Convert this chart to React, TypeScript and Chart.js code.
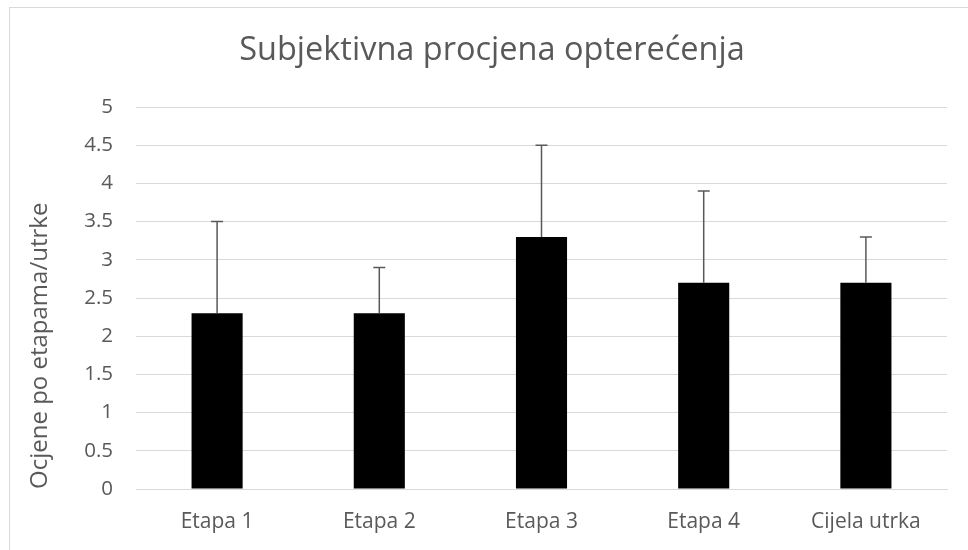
import React, { useEffect, useRef } from "react";
import { Chart, registerables } from "chart.js";

Chart.register(...registerables);

const titleText = "Subjektivna procjena opterećenja";
const yAxisTitle = "Ocjene po etapama/utrke";
const categories = ["Etapa 1", "Etapa 2", "Etapa 3", "Etapa 4", "Cijela utrka"];
const means = [2.3, 2.3, 3.3, 2.7, 2.7];
const errorsUp = [1.2, 0.6, 1.2, 1.2, 0.6];
const yTickLabels = ["0", "0.5", "1", "1.5", "2", "2.5", "3", "3.5", "4", "4.5", "5"];

const TEXT = "#595959";
const GRID = "#d9d9d9";
const FONT = "'Open Sans', sans-serif";

const errorBarPlugin = {
  id: "errorBars",
  afterDatasetsDraw(chart: any) {
    const meta = chart.getDatasetMeta(0);
    const y = chart.scales.y;
    const ctx = chart.ctx;
    ctx.save();
    ctx.strokeStyle = "#595959";
    ctx.lineWidth = 1.5;
    meta.data.forEach((bar: any, i: number) => {
      const x = bar.x;
      const yTop = y.getPixelForValue(means[i] + errorsUp[i]);
      const yBase = y.getPixelForValue(means[i]);
      ctx.beginPath();
      ctx.moveTo(x, yBase);
      ctx.lineTo(x, yTop);
      ctx.moveTo(x - 6, yTop);
      ctx.lineTo(x + 6, yTop);
      ctx.stroke();
    });
    ctx.restore();
  },
};

const framePlugin = {
  id: "frame",
  beforeDraw(chart: any) {
    const ctx = chart.ctx;
    ctx.save();
    ctx.fillStyle = "#ffffff";
    ctx.fillRect(0, 0, chart.width, chart.height);
    ctx.strokeStyle = GRID;
    ctx.lineWidth = 1;
    ctx.strokeRect(9.5, 7.5, 2000, 2000);
    ctx.restore();
  },
  afterDraw(chart: any) {
    const ctx = chart.ctx;
    ctx.save();
    ctx.fillStyle = TEXT;
    ctx.font = `normal 32.5px ${FONT}`;
    ctx.textAlign = "center";
    ctx.textBaseline = "middle";
    ctx.fillText(titleText, 492, 51);
    ctx.restore();
  },
};

export default function App() {
  const ref = useRef<HTMLCanvasElement | null>(null);
  useEffect(() => {
    if (!ref.current) return;
    const chart = new Chart(ref.current, {
      type: "bar",
      data: {
        labels: categories,
        datasets: [
          {
            data: means,
            backgroundColor: "#000000",
            borderWidth: 0,
            barPercentage: 0.63,
            categoryPercentage: 0.5,
          },
        ],
      },
      plugins: [framePlugin, errorBarPlugin],
      options: {
        animation: false,
        responsive: false,
        maintainAspectRatio: false,
        layout: { padding: { left: 22, right: 21, top: 107, bottom: 0 } },
        plugins: {
          legend: { display: false },
          tooltip: { enabled: false },
          title: { display: false },
        },
        scales: {
          x: {
            grid: { display: false, drawTicks: false },
            border: { display: true, color: GRID, width: 1 },
            ticks: {
              color: TEXT,
              font: { family: FONT, size: 21 },
              padding: 20,
              maxRotation: 0,
            },
            afterFit(scale: any) {
              scale.height = 61;
            },
          },
          y: {
            min: 0,
            max: 5,
            grid: { color: GRID, lineWidth: 1, drawTicks: false },
            border: { display: false },
            ticks: {
              stepSize: 0.5,
              color: TEXT,
              font: { family: FONT, size: 20.5 },
              padding: 23,
              callback: (_v: any, i: number) => yTickLabels[i],
            },
            title: {
              display: true,
              text: yAxisTitle,
              color: TEXT,
              align: "start",
              font: { family: FONT, size: 24 },
              padding: { top: 4, bottom: 4 },
            },
            afterFit(scale: any) {
              scale.width = 114;
            },
          },
        },
      },
    });
    return () => chart.destroy();
  }, []);
  return (
    <div style={{ position: "fixed", left: 0, top: 0, width: 968, height: 550 }}>
      <canvas ref={ref} width={968} height={550} style={{ display: "block", width: 968, height: 550 }} />
    </div>
  );
}
